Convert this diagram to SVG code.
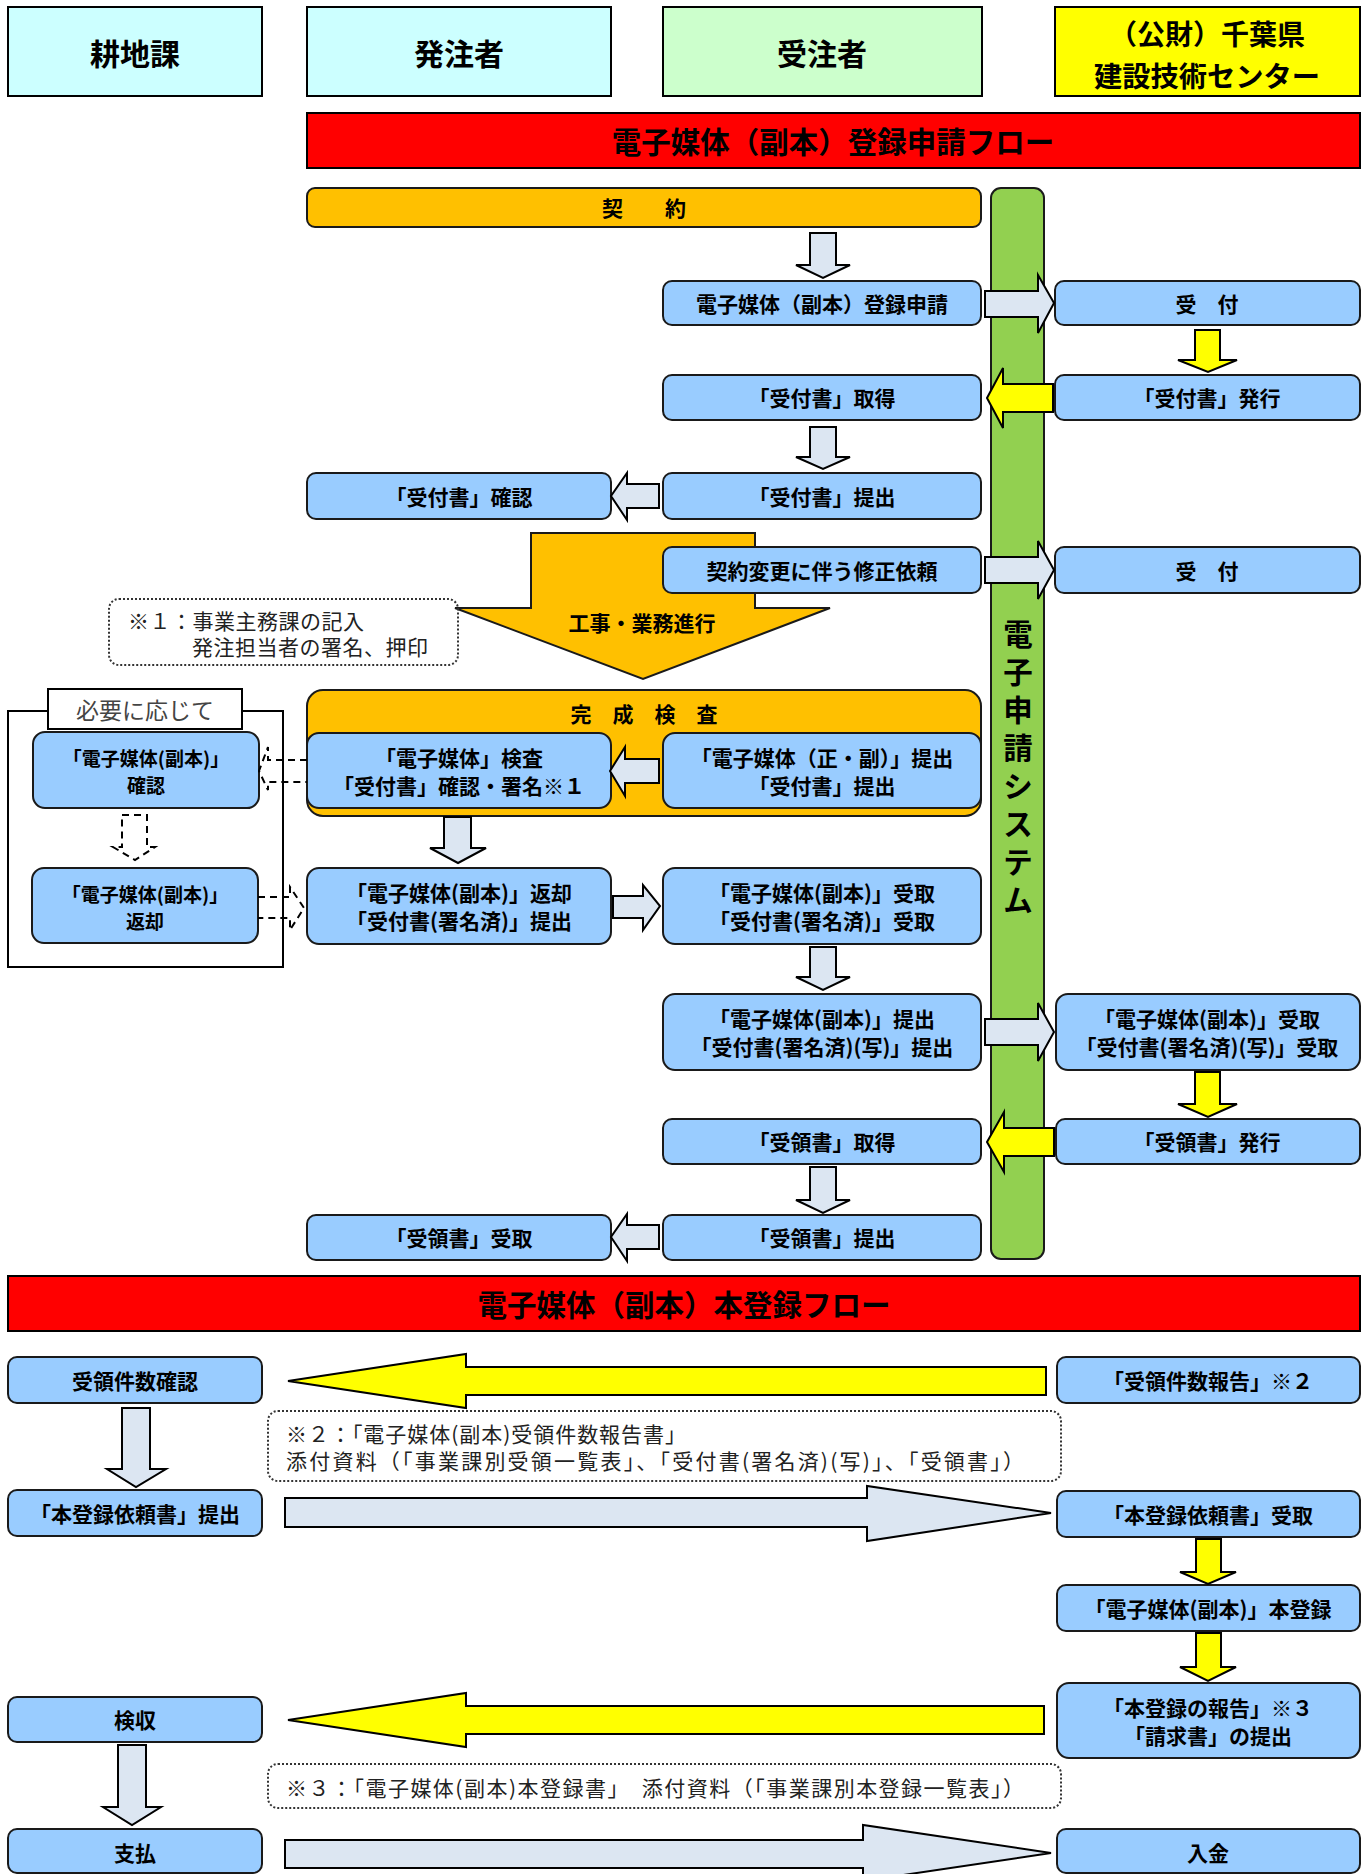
<svg xmlns="http://www.w3.org/2000/svg" width="1367" height="1874" viewBox="0 0 1367 1874">
<style>
.hdr{stroke:#000;stroke-width:2}
.box{fill:#99CCFF;stroke:#1a1a1a;stroke-width:2}
.la{fill:#DCE6F2;stroke:#000;stroke-width:2;stroke-linejoin:miter}
.ya{fill:#FFFF00;stroke:#000;stroke-width:2;stroke-linejoin:miter}
.da{fill:none;stroke:#000;stroke-width:2;stroke-dasharray:7 5}
.note{fill:none;stroke:#333;stroke-width:2;stroke-dasharray:2 2}
text{font-family:"Noto Sans CJK JP","Noto Sans CJK SC",sans-serif;dominant-baseline:central;fill:#000}
.t{font-weight:bold;font-size:21px;text-anchor:middle}
.ts{font-weight:bold;font-size:19px;text-anchor:middle}
.th{font-weight:bold;font-size:30px;text-anchor:middle}
.th2{font-weight:bold;font-size:28px;text-anchor:middle}
.tr{font-weight:bold;font-size:29.5px;text-anchor:middle}
.tn{font-weight:normal;font-size:21px;text-anchor:start;fill:#222}
</style>
<rect width="1367" height="1874" fill="#fff"/>

<!-- headers -->
<g id="h-kouchika"><rect class="hdr" x="8" y="7" width="254" height="89" fill="#CCFFFF"/><text class="th" x="135" y="52">耕地課</text></g>
<g id="h-hacchu"><rect class="hdr" x="307" y="7" width="304" height="89" fill="#CCFFFF"/><text class="th" x="459" y="52">発注者</text></g>
<g id="h-juchu"><rect class="hdr" x="663" y="7" width="319" height="89" fill="#CCFFCC"/><text class="th" x="822" y="52">受注者</text></g>
<g id="h-center"><rect class="hdr" x="1055" y="7" width="305" height="89" fill="#FFFF00"/><text class="th2" x="1207" y="33" textLength="196" lengthAdjust="spacingAndGlyphs">（公財）千葉県</text><text class="th2" x="1207" y="75" textLength="226" lengthAdjust="spacingAndGlyphs">建設技術センター</text></g>

<g id="title1"><rect class="hdr" x="307" y="113" width="1053" height="55" fill="#FF0000"/><text class="tr" x="833" y="140">電子媒体（副本）登録申請フロー</text></g>

<g id="keiyaku"><rect x="307" y="188" width="674" height="39" rx="8" fill="#FFC000" stroke="#1a1a1a" stroke-width="2"/><text class="t" x="644" y="207">契　　約</text></g>

<g id="system"><rect x="991" y="188" width="53" height="1071" rx="10" fill="#92D050" stroke="#1a1a1a" stroke-width="2"/>
<text class="tr" x="1018"><tspan x="1018" y="632">電</tspan><tspan x="1018" y="670">子</tspan><tspan x="1018" y="708">申</tspan><tspan x="1018" y="746">請</tspan><tspan x="1018" y="784">シ</tspan><tspan x="1018" y="822">ス</tspan><tspan x="1018" y="860">テ</tspan><tspan x="1018" y="898">ム</tspan></text></g>

<!-- big orange arrow 工事・業務進行 -->
<g id="progress"><polygon points="531,533 755,533 755,608 830,608 643,679 455,608 531,608" fill="#FFC000" stroke="#1a1a1a" stroke-width="2"/><text class="t" x="642" y="622">工事・業務進行</text></g>

<!-- 完成検査 container -->
<g id="kansei"><rect x="307" y="690" width="674" height="126" rx="16" fill="#FFC000" stroke="#1a1a1a" stroke-width="2"/><text class="t" x="644" y="713">完　成　検　査</text></g>

<!-- left frame -->
<g id="hitsuyou"><rect x="8" y="711" width="275" height="256" fill="none" stroke="#000" stroke-width="2"/><rect x="48" y="689" width="194" height="40" fill="#fff" stroke="#000" stroke-width="2"/><text x="145" y="709" style="font-size:23px;text-anchor:middle;fill:#444">必要に応じて</text></g>

<!-- notes -->
<g id="note1"><rect class="note" x="109" y="599" width="349" height="66" rx="10"/><text class="tn" x="128" y="620" textLength="236" lengthAdjust="spacing">※１：事業主務課の記入</text><text class="tn" x="192" y="646" textLength="236" lengthAdjust="spacing">発注担当者の署名、押印</text></g>
<g id="note2"><rect class="note" x="268" y="1411" width="793" height="70" rx="10"/><text class="tn" x="286" y="1433" textLength="400" lengthAdjust="spacing">※２：「電子媒体(副本)受領件数報告書」</text><text class="tn" x="286" y="1460" textLength="738" lengthAdjust="spacing">添付資料（「事業課別受領一覧表」、「受付書(署名済)(写)」、「受領書」）</text></g>
<g id="note3"><rect class="note" x="268" y="1764" width="793" height="44" rx="10"/><text class="tn" x="286" y="1787" textLength="738" lengthAdjust="spacing">※３：「電子媒体(副本)本登録書」　添付資料（「事業課別本登録一覧表」）</text></g>

<!-- boxes -->
<g id="n-shinsei"><rect class="box" x="663" y="281" width="318" height="44" rx="9"/><text class="t" x="822" y="303">電子媒体（副本）登録申請</text></g>
<g id="n-uketsuke1"><rect class="box" x="1055" y="281" width="305" height="44" rx="9"/><text class="t" x="1207" y="303">受　付</text></g>
<g id="n-shutoku"><rect class="box" x="663" y="375" width="318" height="45" rx="9"/><text class="t" x="822" y="397">「受付書」取得</text></g>
<g id="n-hakkou"><rect class="box" x="1055" y="375" width="305" height="45" rx="9"/><text class="t" x="1207" y="397">「受付書」発行</text></g>
<g id="n-teishutsu1"><rect class="box" x="663" y="473" width="318" height="46" rx="9"/><text class="t" x="822" y="496">「受付書」提出</text></g>
<g id="n-kakunin1"><rect class="box" x="307" y="473" width="304" height="46" rx="9"/><text class="t" x="459" y="496">「受付書」確認</text></g>
<g id="n-henkou"><rect class="box" x="663" y="547" width="318" height="46" rx="9"/><text class="t" x="822" y="570">契約変更に伴う修正依頼</text></g>
<g id="n-uketsuke2"><rect class="box" x="1055" y="547" width="305" height="46" rx="9"/><text class="t" x="1207" y="570">受　付</text></g>
<g id="n-kensa"><rect class="box" x="307" y="733" width="304" height="75" rx="12"/><text class="t" x="459" y="757">「電子媒体」検査</text><text class="t" x="459" y="785">「受付書」確認・署名※１</text></g>
<g id="n-seifuku"><rect class="box" x="663" y="733" width="318" height="75" rx="12"/><text class="t" x="822" y="757">「電子媒体（正・副）」提出</text><text class="t" x="822" y="785">「受付書」提出</text></g>
<g id="n-kakunin2"><rect class="box" x="33" y="732" width="226" height="76" rx="12"/><text class="ts" x="146" y="757">「電子媒体(副本)」</text><text class="ts" x="146" y="784">確認</text></g>
<g id="n-henkyaku2"><rect class="box" x="32" y="868" width="226" height="75" rx="12"/><text class="ts" x="145" y="893">「電子媒体(副本)」</text><text class="ts" x="145" y="920">返却</text></g>
<g id="n-henkyaku"><rect class="box" x="307" y="868" width="304" height="76" rx="12"/><text class="t" x="459" y="892">「電子媒体(副本)」返却</text><text class="t" x="459" y="920">「受付書(署名済)」提出</text></g>
<g id="n-uketori1"><rect class="box" x="663" y="868" width="318" height="76" rx="12"/><text class="t" x="822" y="892">「電子媒体(副本)」受取</text><text class="t" x="822" y="920">「受付書(署名済)」受取</text></g>
<g id="n-teishutsu2"><rect class="box" x="663" y="994" width="318" height="76" rx="12"/><text class="t" x="822" y="1018">「電子媒体(副本)」提出</text><text class="t" x="822" y="1046">「受付書(署名済)(写)」提出</text></g>
<g id="n-uketori2"><rect class="box" x="1056" y="994" width="304" height="76" rx="12"/><text class="t" x="1207" y="1018">「電子媒体(副本)」受取</text><text class="t" x="1207" y="1046">「受付書(署名済)(写)」受取</text></g>
<g id="n-juryo-hakkou"><rect class="box" x="1056" y="1119" width="304" height="45" rx="9"/><text class="t" x="1207" y="1141">「受領書」発行</text></g>
<g id="n-juryo-shutoku"><rect class="box" x="663" y="1119" width="318" height="45" rx="9"/><text class="t" x="822" y="1141">「受領書」取得</text></g>
<g id="n-juryo-teishutsu"><rect class="box" x="663" y="1215" width="318" height="45" rx="9"/><text class="t" x="822" y="1237">「受領書」提出</text></g>
<g id="n-juryo-uketori"><rect class="box" x="307" y="1215" width="304" height="45" rx="9"/><text class="t" x="459" y="1237">「受領書」受取</text></g>

<g id="title2"><rect class="hdr" x="8" y="1276" width="1352" height="55" fill="#FF0000"/><text class="tr" x="684" y="1303">電子媒体（副本）本登録フロー</text></g>

<g id="n-kensu-kakunin"><rect class="box" x="8" y="1357" width="254" height="46" rx="9"/><text class="t" x="135" y="1380">受領件数確認</text></g>
<g id="n-kensu-houkoku"><rect class="box" x="1057" y="1357" width="303" height="46" rx="9"/><text class="t" x="1208" y="1380">「受領件数報告」※２</text></g>
<g id="n-irai-teishutsu"><rect class="box" x="8" y="1490" width="254" height="46" rx="9"/><text class="t" x="135" y="1513">「本登録依頼書」提出</text></g>
<g id="n-irai-uketori"><rect class="box" x="1057" y="1491" width="303" height="46" rx="9"/><text class="t" x="1208" y="1514">「本登録依頼書」受取</text></g>
<g id="n-honttouroku"><rect class="box" x="1057" y="1585" width="303" height="46" rx="9"/><text class="t" x="1208" y="1608">「電子媒体(副本)」本登録</text></g>
<g id="n-houkoku"><rect class="box" x="1057" y="1683" width="303" height="75" rx="12"/><text class="t" x="1208" y="1707">「本登録の報告」※３</text><text class="t" x="1208" y="1735">「請求書」の提出</text></g>
<g id="n-kenshu"><rect class="box" x="8" y="1697" width="254" height="45" rx="9"/><text class="t" x="135" y="1719">検収</text></g>
<g id="n-shiharai"><rect class="box" x="8" y="1829" width="254" height="44" rx="9"/><text class="t" x="135" y="1852">支払</text></g>
<g id="n-nyukin"><rect class="box" x="1057" y="1829" width="303" height="44" rx="9"/><text class="t" x="1208" y="1852">入金</text></g>

<!-- connectors -->
<g id="connectors">
<polygon class="la" points="810,233 836,233 836,265 850,265 823,278 796,265 810,265"/>
<polygon class="la" points="810,427 836,427 836,457 850,457 823,469 796,457 810,457"/>
<polygon class="la" points="444,817 471,817 471,848 486,848 458,863 430,848 444,848"/>
<polygon class="la" points="810,947 836,947 836,977 850,977 823,990 796,977 810,977"/>
<polygon class="la" points="810,1167 836,1167 836,1200 850,1200 823,1213 796,1200 810,1200"/>
<polygon class="la" points="122,1408 150,1408 150,1469 166,1469 136,1487 107,1469 122,1469"/>
<polygon class="la" points="118,1745 146,1745 146,1807 161,1807 132,1825 103,1807 118,1807"/>
<polygon class="ya" points="1195,330 1220,330 1220,360 1237,360 1208,372 1178,360 1195,360"/>
<polygon class="ya" points="1195,1072 1220,1072 1220,1104 1237,1104 1208,1117 1178,1104 1195,1104"/>
<polygon class="ya" points="1196,1539 1221,1539 1221,1572 1236,1572 1208,1584 1180,1572 1196,1572"/>
<polygon class="ya" points="1196,1633 1221,1633 1221,1667 1236,1667 1208,1681 1180,1667 1196,1667"/>
<polygon class="la" points="985,291 1038,291 1038,275 1054,303 1038,333 1038,317 985,317"/>
<polygon class="la" points="985,557 1038,557 1038,541 1054,570 1038,599 1038,583 985,583"/>
<polygon class="la" points="985,1019 1038,1019 1038,1003 1054,1032 1038,1061 1038,1045 985,1045"/>
<polygon class="ya" points="1053,384 1003,384 1003,368 987,398 1003,428 1003,412 1053,412"/>
<polygon class="ya" points="1054,1128 1004,1128 1004,1112 987,1142 1004,1172 1004,1156 1054,1156"/>
<polygon class="la" points="659,484 627,484 627,473 611,496 627,520 627,508 659,508"/>
<polygon class="la" points="659,759 625,759 625,747 610,771 625,796 625,783 659,783"/>
<polygon class="la" points="659,1225 627,1225 627,1214 611,1237 627,1261 627,1249 659,1249"/>
<polygon class="la" points="613,896 643,896 643,885 660,906 643,930 643,918 613,918"/>
<path class="da" d="M307,760 H268 V747 L259,771 L268,790 V782 H307"/>
<path class="da" d="M258,897 H290 V887 L304,908 L290,930 V918 H258"/>
<path class="da" d="M122,815 H147 V847 H155 L135,860 L113,847 H122 Z"/>
<polygon class="ya" points="1046,1367 466,1367 466,1354 288,1381 466,1408 466,1395 1046,1395"/>
<polygon class="la" points="285,1498 867,1498 867,1486 1051,1513 867,1541 867,1527 285,1527"/>
<polygon class="ya" points="1044,1706 466,1706 466,1693 288,1720 466,1747 466,1734 1044,1734"/>
<polygon class="la" points="285,1840 863,1840 863,1825 1051,1853 863,1881 863,1868 285,1868"/>
</g>
</svg>
